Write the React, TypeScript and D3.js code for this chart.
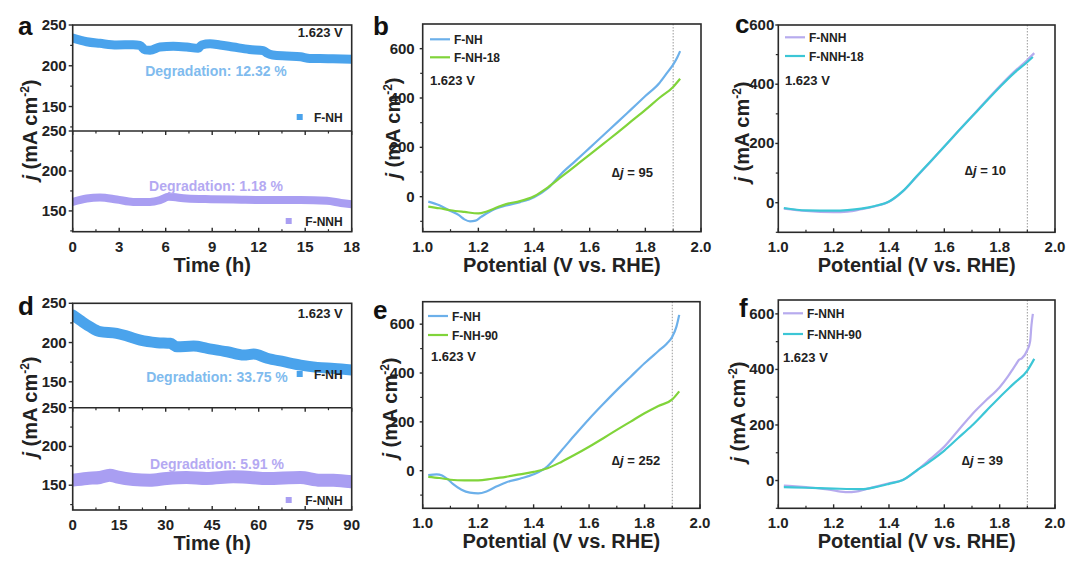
import React from 'react';
import * as d3 from 'd3';

const W = 1080;
const H = 564;
const FONT = "'Liberation Sans', Arial, Helvetica, sans-serif";

// ---------- tick labels ----------
const timeTicksA = [0, 3, 6, 9, 12, 15, 18];
const timeTicksD = [0, 15, 30, 45, 60, 75, 90];
const jTicksStab = [150, 200, 250];
const jMinorStab = [125, 175, 225];
const potentialTicks = [1.0, 1.2, 1.4, 1.6, 1.8, 2.0];
const potentialMinor = [1.1, 1.3, 1.5, 1.7, 1.9];
const jTicksLsv = [0, 200, 400, 600];
const jMinorLsv = [-100, 100, 300, 500];

// ---------- stability data (time h, j mA cm-2) ----------
const stabA_FNH: [number, number][] = [
  [0, 234], [0.9, 229.5], [1.76, 227.5], [2.84, 225.5], [3.9, 225.8], [4.34, 225], [4.66, 219.5], [4.99, 219],
  [5.63, 223], [6.49, 224], [7.35, 223], [8.1, 221.4], [8.32, 225.5], [8.86, 227], [9.5, 225.5], [10.36, 223],
  [11.4, 220], [12.3, 218.5], [12.5, 216], [12.9, 213.2], [13.8, 212], [14.7, 211], [15.3, 209], [15.95, 209],
  [16.8, 208.5], [18, 208],
];
const stabA_FNNH: [number, number][] = [
  [0, 161.3], [0.9, 165.5], [1.76, 166.8], [2.84, 164.3], [3.9, 161.3], [4.99, 161.3], [5.63, 163.6], [6.2, 167.6],
  [7.35, 165.5], [8.9, 164.7], [10.36, 164.3], [12.5, 163.6], [14.7, 163.6], [16.4, 162.6], [17.3, 160], [18, 158.4],
];
const stabD_FNH: [number, number][] = [
  [0, 235], [2.3, 228.7], [5.6, 220], [8.8, 213.8], [14.2, 211.7], [17.5, 208.3], [21.8, 203], [27.2, 199.8],
  [31.5, 199], [33.6, 194.7], [39, 195.5], [43.4, 192.6], [49.8, 188.3], [55.2, 184], [58.4, 185.3], [62.7, 180],
  [68.1, 175.6], [73.5, 171.3], [78.9, 168.4], [84.3, 167], [90, 165],
];
const stabD_FNNH: [number, number][] = [
  [0, 156.5], [4.5, 158.7], [8.8, 160], [12, 163], [14.2, 160.8], [19.6, 157.4], [24.9, 156.5], [30.3, 158.7],
  [36.7, 160], [43.2, 158.7], [51.8, 160.8], [57.2, 160], [62.6, 158.7], [73.4, 160], [79.8, 156.5], [84.1, 156.5],
  [90, 154.3],
];

// ---------- LSV data (V vs RHE, j mA cm-2) ----------
const lsvB_FNH: [number, number][] = [
  [1.02, -20], [1.06, -35], [1.1, -58], [1.13, -75], [1.15, -92], [1.17, -100], [1.19, -97], [1.21, -82],
  [1.25, -55], [1.3, -36], [1.35, -22], [1.4, -2], [1.45, 34], [1.5, 95], [1.55, 146], [1.6, 198], [1.65, 250],
  [1.7, 302], [1.75, 355], [1.8, 408], [1.85, 460], [1.88, 505], [1.9, 535], [1.915, 565], [1.925, 590],
];
const lsvB_FNH18: [number, number][] = [
  [1.02, -40], [1.06, -47], [1.1, -55], [1.15, -62], [1.2, -68], [1.23, -60], [1.27, -42], [1.3, -30],
  [1.35, -18], [1.4, 2], [1.45, 38], [1.5, 82], [1.55, 126], [1.6, 170], [1.65, 215], [1.7, 260], [1.75, 306],
  [1.8, 352], [1.85, 400], [1.9, 445], [1.925, 478],
];
const lsvC_FNNH: [number, number][] = [
  [1.02, -20], [1.1, -28], [1.2, -32], [1.25, -30], [1.3, -22], [1.35, -12], [1.4, 3], [1.45, 38], [1.5, 88],
  [1.55, 138], [1.6, 190], [1.65, 241], [1.7, 292], [1.75, 343], [1.8, 393], [1.85, 440], [1.9, 482], [1.925, 505],
];
const lsvC_FNNH18: [number, number][] = [
  [1.02, -18], [1.1, -26], [1.2, -27], [1.25, -25], [1.3, -20], [1.35, -11], [1.4, 4], [1.45, 39], [1.5, 89],
  [1.55, 139], [1.6, 190], [1.65, 241], [1.7, 291], [1.75, 341], [1.8, 390], [1.85, 436], [1.9, 475], [1.92, 492],
];
const lsvE_FNH: [number, number][] = [
  [1.02, -18], [1.05, -15], [1.07, -20], [1.09, -35], [1.11, -55], [1.14, -78], [1.17, -90], [1.2, -93],
  [1.23, -85], [1.26, -68], [1.3, -48], [1.35, -33], [1.4, -15], [1.45, 18], [1.5, 82], [1.55, 148], [1.6, 212],
  [1.65, 272], [1.7, 330], [1.75, 385], [1.8, 440], [1.85, 490], [1.88, 520], [1.9, 548], [1.915, 590], [1.925, 638],
];
const lsvE_FNH90: [number, number][] = [
  [1.02, -25], [1.06, -30], [1.1, -37], [1.15, -40], [1.2, -40], [1.25, -33], [1.3, -25], [1.35, -15], [1.4, -5],
  [1.45, 10], [1.5, 36], [1.55, 66], [1.6, 98], [1.65, 132], [1.7, 167], [1.75, 201], [1.8, 235], [1.85, 265],
  [1.9, 292], [1.925, 325],
];
const lsvF_FNNH: [number, number][] = [
  [1.02, -18], [1.1, -24], [1.15, -28], [1.2, -36], [1.25, -42], [1.28, -40], [1.32, -30], [1.4, -10], [1.45, 2],
  [1.5, 36], [1.55, 78], [1.6, 122], [1.65, 180], [1.7, 238], [1.75, 288], [1.8, 336], [1.83, 375], [1.85, 405],
  [1.86, 420], [1.87, 435], [1.88, 440], [1.9, 470], [1.91, 500], [1.915, 560], [1.92, 600],
];
const lsvF_FNNH90: [number, number][] = [
  [1.02, -24], [1.1, -26], [1.2, -29], [1.3, -31], [1.35, -24], [1.4, -12], [1.45, 2], [1.5, 36], [1.55, 70],
  [1.6, 108], [1.65, 153], [1.7, 198], [1.75, 249], [1.8, 300], [1.85, 348], [1.9, 396], [1.925, 438],
];

// ---------- colours ----------
const C = {
  axis: '#2a2a2a',
  blueScatter: '#4aa3ec',
  purpleScatter: '#a99ef2',
  blueText: '#80bbee',
  purpleText: '#b4a9f2',
  blueLine: '#6cb0ea',
  greenLine: '#80d43a',
  purpleLine: '#b7abee',
  cyanLine: '#3cc6d6',
  text: '#222',
};

function YTitle({ x, y }: { x: number; y: number }) {
  return (
    <text
      transform={`translate(${x + 7},${y}) rotate(-90)`}
      textAnchor="middle"
      fontFamily={FONT}
      fontWeight="bold"
      fontSize={20}
      fill={C.text}
    >
      <tspan fontStyle="italic">j</tspan>
      <tspan> (mA cm</tspan>
      <tspan fontSize={12} dy={-8}>-2</tspan>
      <tspan dy={8}>)</tspan>
    </text>
  );
}

type StabProps = {
  left: number; right: number; top: number; mid: number; bottom: number;
  xDomain: [number, number]; xTicks: number[];
  upperDomain: [number, number]; lowerDomain: [number, number];
  upper: [number, number][]; lower: [number, number][];
  upperWidth: number; lowerWidth: number;
  letter: string; letterY: number;
  upperDeg: string; lowerDeg: string;
  upperDegY: number; lowerDegY: number; degX: number;
  vY: number;
  legUpperY: number; legLowerY: number;
  titleY: number;
  id: string;
};

function StabPanel(p: StabProps) {
  const x = d3.scaleLinear().domain(p.xDomain).range([p.left, p.right]);
  const yU = d3.scaleLinear().domain(p.upperDomain).range([p.mid, p.top]);
  const yL = d3.scaleLinear().domain(p.lowerDomain).range([p.bottom, p.mid]);
  const lineU = d3.line<[number, number]>().x(d => x(d[0])).y(d => yU(d[1])).curve(d3.curveMonotoneX);
  const lineL = d3.line<[number, number]>().x(d => x(d[0])).y(d => yL(d[1])).curve(d3.curveMonotoneX);
  const step = p.xTicks[1] - p.xTicks[0];
  const minorX = p.xTicks.slice(0, -1).map(t => t + step / 2);
  const tickText = { fontFamily: FONT, fontWeight: 'bold' as const, fontSize: 15, fill: C.text };
  return (
    <g>
      <defs>
        <clipPath id={`${p.id}-u`}><rect x={p.left} y={p.top} width={p.right - p.left} height={p.mid - p.top} /></clipPath>
        <clipPath id={`${p.id}-l`}><rect x={p.left} y={p.mid} width={p.right - p.left} height={p.bottom - p.mid} /></clipPath>
      </defs>
      <path d={lineU(p.upper) || ''} fill="none" stroke={C.blueScatter} strokeWidth={p.upperWidth} strokeLinejoin="round" strokeLinecap="round" clipPath={`url(#${p.id}-u)`} />
      <path d={lineL(p.lower) || ''} fill="none" stroke={C.purpleScatter} strokeWidth={p.lowerWidth} strokeLinejoin="round" strokeLinecap="round" clipPath={`url(#${p.id}-l)`} />
      <rect x={p.left} y={p.top} width={p.right - p.left} height={p.bottom - p.top} fill="none" stroke={C.axis} strokeWidth={1.6} />
      <line x1={p.left} x2={p.right} y1={p.mid} y2={p.mid} stroke={C.axis} strokeWidth={1.6} />
      {p.xTicks.map(t => (
        <g key={`xt${t}`}>
          <line x1={x(t)} x2={x(t)} y1={p.bottom} y2={p.bottom - 4} stroke={C.axis} strokeWidth={1.4} />
          <line x1={x(t)} x2={x(t)} y1={p.mid} y2={p.mid + 4} stroke={C.axis} strokeWidth={1.4} />
          <text x={x(t)} y={p.bottom + 20} textAnchor="middle" {...tickText}>{t}</text>
        </g>
      ))}
      {minorX.map(t => (
        <g key={`xm${t}`}>
          <line x1={x(t)} x2={x(t)} y1={p.bottom} y2={p.bottom - 2.5} stroke={C.axis} strokeWidth={1.2} />
          <line x1={x(t)} x2={x(t)} y1={p.mid} y2={p.mid + 2.5} stroke={C.axis} strokeWidth={1.2} />
        </g>
      ))}
      {jTicksStab.map(v => (
        <g key={`yu${v}`}>
          <line x1={p.left} x2={p.left - 4} y1={yU(v)} y2={yU(v)} stroke={C.axis} strokeWidth={1.4} />
          <text x={p.left - 6} y={yU(v) + 5} textAnchor="end" {...tickText}>{v}</text>
          <line x1={p.left} x2={p.left - 4} y1={yL(v)} y2={yL(v)} stroke={C.axis} strokeWidth={1.4} />
          <text x={p.left - 6} y={yL(v) + 5} textAnchor="end" {...tickText}>{v}</text>
        </g>
      ))}
      {jMinorStab.map(v => (
        <g key={`ym${v}`}>
          {v >= p.upperDomain[0] && <line x1={p.left} x2={p.left - 2.5} y1={yU(v)} y2={yU(v)} stroke={C.axis} strokeWidth={1.2} />}
          {v >= p.lowerDomain[0] && <line x1={p.left} x2={p.left - 2.5} y1={yL(v)} y2={yL(v)} stroke={C.axis} strokeWidth={1.2} />}
        </g>
      ))}
      <text x={(p.left + p.right) / 2} y={p.bottom + 40} textAnchor="middle" fontFamily={FONT} fontWeight="bold" fontSize={20} fill={C.text}>Time (h)</text>
      <YTitle x={30} y={p.titleY} />
      <text x={18} y={p.letterY} fontFamily={FONT} fontWeight="bold" fontSize={26} fill="#111">{p.letter}</text>
      <text x={p.right - 9} y={p.vY} textAnchor="end" fontFamily={FONT} fontWeight="bold" fontSize={13} fill={C.text}>1.623 V</text>
      <text x={p.degX} y={p.upperDegY} textAnchor="middle" fontFamily={FONT} fontWeight="bold" fontSize={14} fill={C.blueText}>{p.upperDeg}</text>
      <text x={p.degX} y={p.lowerDegY} textAnchor="middle" fontFamily={FONT} fontWeight="bold" fontSize={14} fill={C.purpleText}>{p.lowerDeg}</text>
      <rect x={p.right - 55} y={p.legUpperY - 3} width={6} height={6} fill={C.blueScatter} />
      <text x={p.right - 9} y={p.legUpperY + 4.5} textAnchor="end" fontFamily={FONT} fontWeight="bold" fontSize={12} fill={C.text}>F-NH</text>
      <rect x={p.right - 66} y={p.legLowerY - 3} width={6} height={6} fill={C.purpleScatter} />
      <text x={p.right - 9} y={p.legLowerY + 4.5} textAnchor="end" fontFamily={FONT} fontWeight="bold" fontSize={12} fill={C.text}>F-NNH</text>
    </g>
  );
}

type LsvProps = {
  left: number; right: number; top: number; bottom: number;
  yDomain: [number, number];
  s1: [number, number][]; s2: [number, number][];
  c1: string; c2: string; n1: string; n2: string;
  letter: string; letterX: number; letterY: number;
  legX: number; legY1: number; legY2: number;
  vX: number; vY: number;
  delta: string; deltaX: number; deltaY: number;
  titleX: number; titleY: number;
  yLabelGap: number;
};

function LsvPanel(p: LsvProps) {
  const x = d3.scaleLinear().domain([1.0, 2.0]).range([p.left, p.right]);
  const y = d3.scaleLinear().domain(p.yDomain).range([p.bottom, p.top]);
  const line = d3.line<[number, number]>().x(d => x(d[0])).y(d => y(d[1])).curve(d3.curveMonotoneX);
  const tickText = { fontFamily: FONT, fontWeight: 'bold' as const, fontSize: 15, fill: C.text };
  return (
    <g>
      <line x1={x(1.9)} x2={x(1.9)} y1={p.top} y2={p.bottom} stroke="#9a9a9a" strokeWidth={1} strokeDasharray="1.5,1.5" />
      <path d={line(p.s1) || ''} fill="none" stroke={p.c1} strokeWidth={2.2} strokeLinejoin="round" />
      <path d={line(p.s2) || ''} fill="none" stroke={p.c2} strokeWidth={2.2} strokeLinejoin="round" />
      <rect x={p.left} y={p.top} width={p.right - p.left} height={p.bottom - p.top} fill="none" stroke={C.axis} strokeWidth={1.6} />
      {potentialTicks.map(t => (
        <g key={`x${t}`}>
          <line x1={x(t)} x2={x(t)} y1={p.bottom} y2={p.bottom - 4} stroke={C.axis} strokeWidth={1.4} />
          <text x={x(t)} y={p.bottom + 20} textAnchor="middle" {...tickText}>{t.toFixed(1)}</text>
        </g>
      ))}
      {potentialMinor.map(t => (
        <line key={`xm${t}`} x1={x(t)} x2={x(t)} y1={p.bottom} y2={p.bottom - 2.5} stroke={C.axis} strokeWidth={1.2} />
      ))}
      {jTicksLsv.map(v => (
        <g key={`y${v}`}>
          <line x1={p.left} x2={p.left - 3} y1={y(v)} y2={y(v)} stroke={C.axis} strokeWidth={1.4} />
          <text x={p.left - p.yLabelGap} y={y(v) + 5} textAnchor="end" {...tickText}>{v}</text>
        </g>
      ))}
      {jMinorLsv.filter(v => v >= p.yDomain[0] && v <= p.yDomain[1]).map(v => (
        <line key={`ym${v}`} x1={p.left} x2={p.left - 2.5} y1={y(v)} y2={y(v)} stroke={C.axis} strokeWidth={1.2} />
      ))}
      <text x={(p.left + p.right) / 2} y={p.bottom + 40} textAnchor="middle" fontFamily={FONT} fontWeight="bold" fontSize={20} fill={C.text}>Potential (V vs. RHE)</text>
      <YTitle x={p.titleX} y={p.titleY} />
      <text x={p.letterX} y={p.letterY} fontFamily={FONT} fontWeight="bold" fontSize={26} fill="#111">{p.letter}</text>
      <line x1={p.legX} x2={p.legX + 20} y1={p.legY1} y2={p.legY1} stroke={p.c1} strokeWidth={2.2} />
      <text x={p.legX + 24} y={p.legY1 + 4.5} fontFamily={FONT} fontWeight="bold" fontSize={12} fill={C.text}>{p.n1}</text>
      <line x1={p.legX} x2={p.legX + 20} y1={p.legY2} y2={p.legY2} stroke={p.c2} strokeWidth={2.2} />
      <text x={p.legX + 24} y={p.legY2 + 4.5} fontFamily={FONT} fontWeight="bold" fontSize={12} fill={C.text}>{p.n2}</text>
      <text x={p.vX} y={p.vY} fontFamily={FONT} fontWeight="bold" fontSize={13} fill={C.text}>1.623 V</text>
      <text x={p.deltaX} y={p.deltaY} fontFamily={FONT} fontWeight="bold" fontSize={13} fill={C.text}>
        <tspan>∆</tspan><tspan fontStyle="italic">j</tspan><tspan> = {p.delta}</tspan>
      </text>
    </g>
  );
}

export default function App() {
  return (
    <svg width={W} height={H} viewBox={`0 0 ${W} ${H}`} style={{ position: 'absolute', left: 0, top: 0, background: '#fff' }}>
      <rect x={0} y={0} width={W} height={H} fill="#fff" />
      <StabPanel
        id="a" left={72.7} right={351.7} top={25} mid={131} bottom={231.7}
        xDomain={[0, 18]} xTicks={timeTicksA}
        upperDomain={[120, 250]} lowerDomain={[124, 250]}
        upper={stabA_FNH} lower={stabA_FNNH} upperWidth={9} lowerWidth={8}
        letter="a" letterY={35}
        upperDeg="Degradation: 12.32 %" lowerDeg="Degradation: 1.18 %"
        upperDegY={76} lowerDegY={190.5} degX={216}
        vY={36.5} legUpperY={117} legLowerY={221} titleY={130}
      />
      <StabPanel
        id="d" left={72.7} right={351.7} top={303.3} mid={407.7} bottom={510}
        xDomain={[0, 90]} xTicks={timeTicksD}
        upperDomain={[117, 250]} lowerDomain={[118, 250]}
        upper={stabD_FNH} lower={stabD_FNNH} upperWidth={11} lowerWidth={13}
        letter="d" letterY={315}
        upperDeg="Degradation: 33.75 %" lowerDeg="Degradation: 5.91 %"
        upperDegY={381.5} lowerDegY={469} degX={217}
        vY={317.5} legUpperY={374} legLowerY={500} titleY={407}
      />
      <LsvPanel
        left={422.7} right={701} top={24} bottom={231.7} yDomain={[-142, 700]}
        s1={lsvB_FNH} s2={lsvB_FNH18} c1={C.blueLine} c2={C.greenLine} n1="F-NH" n2="F-NH-18"
        letter="b" letterX={373} letterY={35}
        legX={430} legY1={39.3} legY2={57.3}
        vX={430} vY={84.5}
        delta="95" deltaX={612} deltaY={177}
        titleX={393} titleY={128} yLabelGap={8}
      />
      <LsvPanel
        left={778.3} right={1055} top={25} bottom={232.3} yDomain={[-100, 600]}
        s1={lsvC_FNNH} s2={lsvC_FNNH18} c1={C.purpleLine} c2={C.cyanLine} n1="F-NNH" n2="F-NNH-18"
        letter="c" letterX={735} letterY={33}
        legX={785} legY1={37.3} legY2={56}
        vX={785} vY={84.5}
        delta="10" deltaX={965} deltaY={174.5}
        titleX={742} titleY={132} yLabelGap={4}
      />
      <LsvPanel
        left={422.7} right={700} top={301.7} bottom={508.3} yDomain={[-154, 692]}
        s1={lsvE_FNH} s2={lsvE_FNH90} c1={C.blueLine} c2={C.greenLine} n1="F-NH" n2="F-NH-90"
        letter="e" letterX={373} letterY={319}
        legX={428} legY1={316} legY2={335}
        vX={431} vY={360.5}
        delta="252" deltaX={612} deltaY={464.5}
        titleX={390} titleY={408} yLabelGap={8}
      />
      <LsvPanel
        left={778.3} right={1055} top={300} bottom={508.3} yDomain={[-100, 650]}
        s1={lsvF_FNNH} s2={lsvF_FNNH90} c1={C.purpleLine} c2={C.cyanLine} n1="F-NNH" n2="F-NNH-90"
        letter="f" letterX={739} letterY={317}
        legX={783} legY1={313.3} legY2={334}
        vX={783} vY={361.5}
        delta="39" deltaX={962} deltaY={464.5}
        titleX={738} titleY={412} yLabelGap={4}
      />
    </svg>
  );
}
